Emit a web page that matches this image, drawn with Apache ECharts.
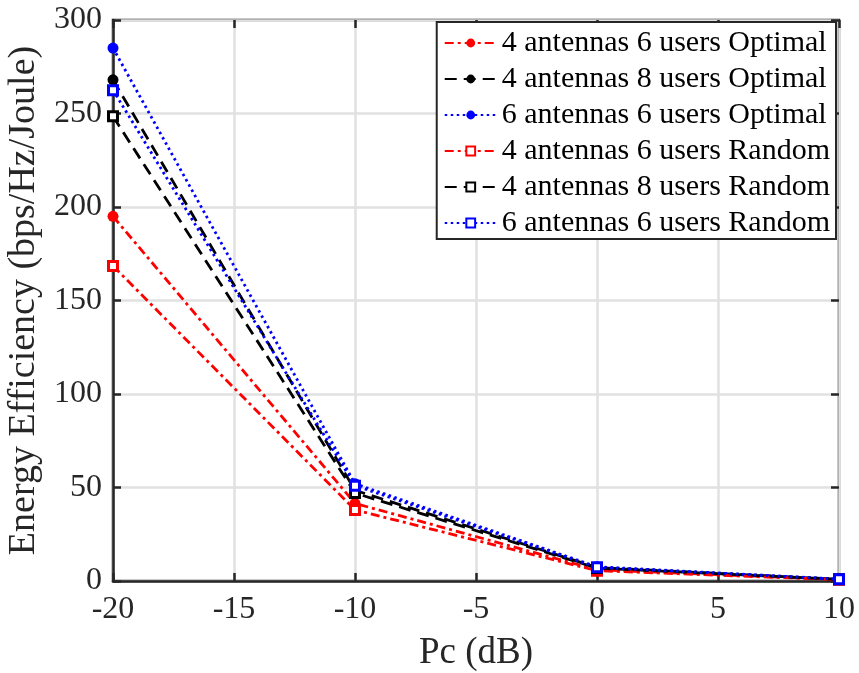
<!DOCTYPE html>
<html>
<head>
<meta charset="utf-8">
<script src="https://cdn.jsdelivr.net/npm/echarts@6/dist/echarts.min.js"></script>
<style>
  html, body { margin: 0; padding: 0; background: #fff; }
  #chart { width: 859px; height: 673px; }
</style>
</head>
<body>
<div id="chart"></div>
<script>
// Pc values (dB)
const pc = [-20, -10, 0, 10]

// energy efficiency (bps/Hz/Joule)
const opt4x6 = [195, 41.5, 6.0, 0.8]
const opt4x8 = [268, 48.5, 7.2, 0.9]
const opt6x6 = [285, 52, 7.6, 1.0]
const rnd4x6 = [168.5, 38, 5.5, 0.7]
const rnd4x8 = [248.5, 47, 6.9, 0.9]
const rnd6x6 = [262.5, 51, 7.3, 1.0]

const names = [
  '4 antennas 6 users Optimal',
  '4 antennas 8 users Optimal',
  '6 antennas 6 users Optimal',
  '4 antennas 6 users Random',
  '4 antennas 8 users Random',
  '6 antennas 6 users Random'
]

const font = 'Liberation Serif'
const dashDot = [9, 4, 3, 4]
const dashed = [12, 7]
const dotted = [2.5, 3.5]

function pairs(ys) {
  return pc.map((x, i) => [x, ys[i]])
}

function makeSeries(name, ys, color, dash, square) {
  return {
    name: name,
    type: 'line',
    data: pairs(ys),
    color: color,
    symbol: square ? 'rect' : 'circle',
    symbolSize: square ? 9 : 11,
    showSymbol: true,
    lineStyle: { color: color, width: 2.8, type: dash },
    itemStyle: square
      ? { color: '#fff', borderColor: color, borderWidth: 3 }
      : { color: color, borderColor: color, borderWidth: 0 },
    emphasis: { disabled: true },
    z: 3
  }
}

const tickStyle = { show: true, inside: true, length: 8, lineStyle: { color: '#262626', width: 2.5 } }

const option = {
  animation: false,
  backgroundColor: '#fff',
  grid: {
    left: 113, right: 20, top: 20, bottom: 92,
    outerBoundsMode: 'none',
    containLabel: false,
    show: true, borderColor: '#262626', borderWidth: 2.5
  },
  legend: {
    data: names,
    orient: 'vertical',
    right: 23, top: 22,
    padding: [6, 6, 1, 7],
    backgroundColor: '#fff',
    borderColor: '#262626',
    borderWidth: 2,
    itemWidth: 52,
    itemHeight: 11,
    itemGap: 6,
    textStyle: { fontFamily: font, fontSize: 30, color: '#000', lineHeight: 30 }
  },
  xAxis: [{
    type: 'value',
    min: -20, max: 10, interval: 5,
    name: 'Pc (dB)',
    nameLocation: 'middle',
    nameGap: 54,
    nameTextStyle: { fontFamily: font, fontSize: 37, color: '#262626' },
    axisLine: { show: true, onZero: false, lineStyle: { color: '#262626', width: 2.5 } },
    axisTick: tickStyle,
    axisLabel: { fontFamily: font, fontSize: 32, color: '#262626', margin: 13 },
    splitLine: { show: true, lineStyle: { color: '#e1e1e1', width: 2.5 } }
  }, {
    type: 'value',
    position: 'top',
    min: -20, max: 10, interval: 5,
    axisLine: { show: false, onZero: false },
    axisTick: tickStyle,
    axisLabel: { show: false },
    splitLine: { show: false }
  }],
  yAxis: [{
    type: 'value',
    min: 0, max: 300, interval: 50,
    name: 'Energy Efficiency (bps/Hz/Joule)',
    nameLocation: 'middle',
    nameGap: 64,
    nameTextStyle: { fontFamily: font, fontSize: 38, color: '#262626' },
    axisLine: { show: true, onZero: false, lineStyle: { color: '#262626', width: 2.5 } },
    axisTick: tickStyle,
    axisLabel: { fontFamily: font, fontSize: 32, color: '#262626', margin: 11 },
    splitLine: { show: true, lineStyle: { color: '#e1e1e1', width: 2.5 } }
  }, {
    type: 'value',
    position: 'right',
    min: 0, max: 300, interval: 50,
    axisLine: { show: false, onZero: false },
    axisTick: tickStyle,
    axisLabel: { show: false },
    splitLine: { show: false }
  }],
  series: [
    makeSeries(names[0], opt4x6, '#ff0000', dashDot, false),
    makeSeries(names[1], opt4x8, '#000000', dashed, false),
    makeSeries(names[2], opt6x6, '#0000ff', dotted, false),
    makeSeries(names[3], rnd4x6, '#ff0000', dashDot, true),
    makeSeries(names[4], rnd4x8, '#000000', dashed, true),
    makeSeries(names[5], rnd6x6, '#0000ff', dotted, true)
  ]
}

var chartDom = document.getElementById('chart')
var myChart = echarts.init(chartDom)
myChart.setOption(option)
</script>
</body>
</html>
